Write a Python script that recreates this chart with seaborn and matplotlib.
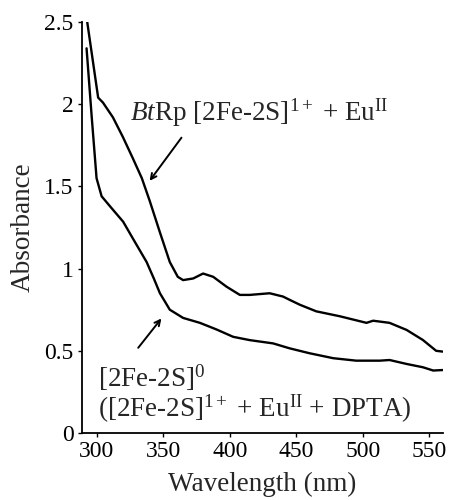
import pandas as pd
import matplotlib
matplotlib.use('Agg')
import matplotlib.pyplot as plt
import seaborn as sns

# Upper trace: BtRp [2Fe-2S]1+ + EuII
wl_upper = [293, 301.2, 304.8, 312.3, 319.8, 327.3, 334, 340, 347.6, 355, 361, 365, 372.6,
            380, 387.6, 397.6, 407.6, 415, 430, 440, 445, 452.7, 465, 482.7, 502.7,
            507.7, 520, 532.8, 545, 555, 560]
abs_upper = [2.50, 2.04, 2.01, 1.92, 1.80, 1.67, 1.55, 1.41, 1.22, 1.04, 0.95, 0.93, 0.94,
             0.97, 0.95, 0.89, 0.84, 0.84, 0.85, 0.83, 0.81, 0.78, 0.74, 0.71, 0.67,
             0.683, 0.67, 0.627, 0.566, 0.50, 0.495]

# Lower trace: [2Fe-2S]0
wl_lower = [292.5, 296.3, 300, 303.8, 310, 320, 327.5, 337.6, 343, 347.6, 355, 365, 377.6,
            390, 402.6, 415, 432.6, 445, 460, 477.7, 495, 512.7, 520, 532.8, 545, 552.8, 560]
abs_lower = [2.34, 1.93, 1.55, 1.44, 1.38, 1.285, 1.18, 1.04, 0.94, 0.85, 0.75, 0.70, 0.67,
             0.63, 0.585, 0.565, 0.545, 0.515, 0.485, 0.455, 0.44, 0.44, 0.444, 0.42, 0.40, 0.38, 0.383]

y_ticks = [0, 0.5, 1, 1.5, 2, 2.5]
y_ticklabels = ['0', '0.5', '1', '1.5', '2', '2.5']
x_ticks = [300, 350, 400, 450, 500, 550]

sns.set_style('ticks')
plt.rcParams['font.family'] = ['Liberation Serif', 'DejaVu Serif']
plt.rcParams['mathtext.fontset'] = 'custom'
plt.rcParams['mathtext.rm'] = 'Liberation Serif'
plt.rcParams['mathtext.it'] = 'Liberation Serif:italic'

df = pd.concat([
    pd.DataFrame({'wl': wl_upper, 'abs': abs_upper, 'trace': 'upper'}),
    pd.DataFrame({'wl': wl_lower, 'abs': abs_lower, 'trace': 'lower'}),
])

fig = plt.figure(figsize=(4.5, 5), dpi=100)
ax = fig.add_axes([0.182, 0.134, 0.802, 0.822])
sns.lineplot(data=df, x='wl', y='abs', units='trace', estimator=None,
             color='black', linewidth=1.7, ax=ax, sort=False)

ax.set_xlim(289, 560)
ax.set_ylim(0, 2.5)
ax.set_xticks(x_ticks)
ax.set_yticks(y_ticks)
ax.set_yticklabels(y_ticklabels)
ax.tick_params(labelsize=17, length=3, width=1, colors='black', pad=3)
ax.set_xlabel('Wavelength (nm)', fontsize=19.5, labelpad=7)
ax.set_ylabel('Absorbance', fontsize=19.5, labelpad=6)
for side in ['top', 'right']:
    ax.spines[side].set_visible(False)
for side in ['left', 'bottom']:
    ax.spines[side].set_linewidth(1.3)
    ax.spines[side].set_color('black')

ax.text(325, 1.90, r'$\it{Bt}$Rp [2Fe-2S]$^{1+}$ + Eu$^{\rm II}$',
        fontsize=19.5, ha='left', va='baseline')
ax.annotate('', xy=(338.6, 1.52), xytext=(365, 1.81),
            arrowprops=dict(arrowstyle='->', color='black', lw=1.4))

ax.text(301, 0.28, '[2Fe-2S]$^{0}$', fontsize=19.5, ha='left', va='baseline')
ax.text(301, 0.097, '([2Fe-2S]$^{1+}$ + Eu$^{\\rm II}$ + DPTA)',
        fontsize=19.5, ha='left', va='baseline')
ax.annotate('', xy=(350, 0.71), xytext=(330, 0.505),
            arrowprops=dict(arrowstyle='->', color='black', lw=1.4))

plt.savefig('out.png', dpi=100)
